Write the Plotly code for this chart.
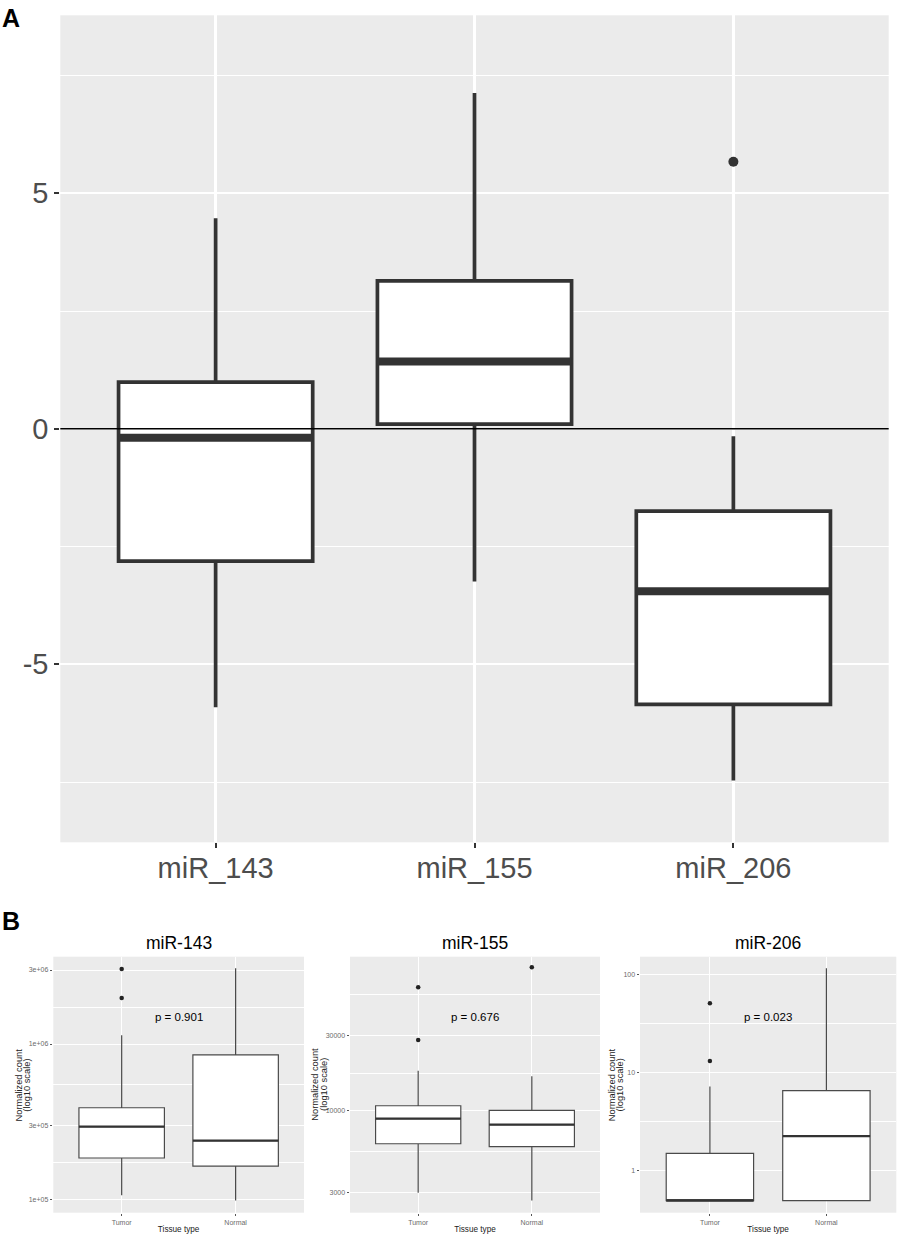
import numpy as np
import plotly.graph_objects as go

# ---- panel A: fold change per miRNA (box stats) ----
a_mirs = ["miR_143", "miR_155", "miR_206"]
a_lower = [-5.91, -3.24, -7.47]
a_q1 = [-2.81, 0.10, -5.85]
a_median = [-0.19, 1.43, -3.45]
a_q3 = [0.99, 3.14, -1.75]
a_upper = [4.47, 7.13, -0.16]
a_out_idx = [2]
a_out_val = [5.67]
a_yticks = [-5, 0, 5]

# ---- panel B: normalized counts, tumor vs normal ----
b_titles = ["miR-143", "miR-155", "miR-206"]
b_pvalues = ["p = 0.901", "p = 0.676", "p = 0.023"]
tissues = ["Tumor", "Normal"]
b_lower = [[1.06e5, 9.8e4], [2970, 2650], [0.5, 0.5]]
b_q1 = [[1.84e5, 1.63e5], [6120, 5860], [0.5, 0.5]]
b_median = [[2.93e5, 2.38e5], [8850, 8110], [0.5, 2.27]]
b_q3 = [[3.88e5, 8.5e5], [10700, 10000], [1.51, 6.6]]
b_upper = [[1.14e6, 3.08e6], [17900, 16500], [7.26, 116]]
b_outliers = [
    [[1.98e6, 3.05e6], []],
    [[28200, 61100], [82000]],
    [[13.2, 51.2], []],
]
b_ticks = [[1e5, 3e5, 1e6, 3e6], [3000, 10000, 30000], [1, 10, 100]]
b_ticktext = [["1e+05", "3e+05", "1e+06", "3e+06"], ["3000", "10000", "30000"], ["1", "10", "100"]]
b_ylab = ["Normalized count", "(log10 scale)"]

FONT = "Liberation Sans, Arial, sans-serif"
PANEL = "#EBEBEB"
DARK = "#333333"
BOXW = 0.75

W, H = 898, 1238


def px_x(a, b):
    return [a / W, b / W]


def px_y(top, bottom):
    return [1 - bottom / H, 1 - top / H]


def median_segments(xs, meds):
    mx, my = [], []
    for x, m in zip(xs, meds):
        mx += [x - BOXW / 2, x + BOXW / 2, None]
        my += [m, m, None]
    return mx, my


fig = go.Figure()

# panel A
xa = list(range(len(a_mirs)))
fig.add_trace(go.Box(
    x=xa, q1=a_q1, median=a_median, q3=a_q3,
    lowerfence=a_lower, upperfence=a_upper,
    width=BOXW, whiskerwidth=0, fillcolor="white",
    line=dict(color=DARK, width=3.7), boxpoints=False,
    showlegend=False, xaxis="x", yaxis="y",
))
mx, my = median_segments(xa, a_median)
fig.add_trace(go.Scatter(x=mx, y=my, mode="lines", line=dict(color=DARK, width=8),
                         showlegend=False, hoverinfo="skip", xaxis="x", yaxis="y"))
fig.add_trace(go.Scatter(x=a_out_idx, y=a_out_val, mode="markers",
                         marker=dict(size=10, color=DARK), showlegend=False,
                         xaxis="x", yaxis="y"))

# panel B
b_xdom = [px_x(53.3, 304), px_x(350, 600), px_x(640, 896.3)]
b_ydom = px_y(956.7, 1212.7)
b_range = [[4.912, 6.563], [3.346, 4.982], [-0.425, 2.183]]
b_ylab_shift = [34.5, 35, 28.5]   # px left of each panel for the first title line
xb = list(range(len(tissues)))

annotations = [
    dict(text="<b>A</b>", x=0, y=1 - 2 / H, xref="paper", yref="paper",
         xanchor="left", yanchor="top", showarrow=False,
         font=dict(size=25, color="black", family=FONT)),
    dict(text="<b>B</b>", x=0, y=1 - 905 / H, xref="paper", yref="paper",
         xanchor="left", yanchor="top", showarrow=False,
         font=dict(size=25, color="black", family=FONT)),
]

axes = {}
for k in range(3):
    n = k + 2
    xr, yr = f"x{n}", f"y{n}"
    fig.add_trace(go.Box(
        x=xb, q1=b_q1[k], median=b_median[k], q3=b_q3[k],
        lowerfence=b_lower[k], upperfence=b_upper[k],
        width=BOXW, whiskerwidth=0, fillcolor="white",
        line=dict(color="#4a4a4a", width=1.2), boxpoints=False,
        showlegend=False, xaxis=xr, yaxis=yr,
    ))
    mx, my = median_segments(xb, b_median[k])
    fig.add_trace(go.Scatter(x=mx, y=my, mode="lines", line=dict(color=DARK, width=2.2),
                             showlegend=False, hoverinfo="skip", xaxis=xr, yaxis=yr))
    ox, oy = [], []
    for i, vals in enumerate(b_outliers[k]):
        ox += [i] * len(vals)
        oy += vals
    fig.add_trace(go.Scatter(x=ox, y=oy, mode="markers", marker=dict(size=4.5, color="#222222"),
                             showlegend=False, xaxis=xr, yaxis=yr))

    # minor grid halfway (in log space) between breaks, as ggplot does
    t = b_ticks[k]
    ext = [t[0] / (t[2] / t[1])] + t + [t[-1] * (t[-2] / t[-3])]
    minor_vals = [float(np.sqrt(ext[i] * ext[i + 1])) for i in range(len(ext) - 1)]

    axes[f"xaxis{n}"] = dict(
        domain=b_xdom[k], anchor=yr, range=[-0.6, 1.6],
        tickvals=xb, ticktext=tissues, showgrid=True, gridcolor="white", gridwidth=1,
        zeroline=False, ticks="outside", ticklen=2.5, tickcolor="#555", tickwidth=0.8,
        tickfont=dict(size=7, color="#6b6b6b", family=FONT),
        title=dict(text="Tissue type", standoff=1, font=dict(size=8.2, color="#222", family=FONT)),
    )
    axes[f"yaxis{n}"] = dict(
        domain=b_ydom, anchor=xr, type="log", range=b_range[k],
        tickvals=t, ticktext=b_ticktext[k],
        showgrid=True, gridcolor="white", gridwidth=1, zeroline=False,
        ticks="outside", ticklen=2.5, tickcolor="#555", tickwidth=0.8,
        tickfont=dict(size=7, color="#6b6b6b", family=FONT),
        minor=dict(tickmode="array", tickvals=minor_vals, showgrid=True,
                   gridcolor="white", gridwidth=0.5, ticks=""),
    )
    # two-line y title, set as rotated text so the tight ggplot line spacing is kept
    for j, line in enumerate(b_ylab):
        annotations.append(dict(text=line, x=0, y=0.5, xref=f"{xr} domain", yref=f"{yr} domain",
                                xshift=-b_ylab_shift[k] + 8.2 * j, textangle=-90,
                                xanchor="center", yanchor="middle", showarrow=False,
                                font=dict(size=9.3, color="#222", family=FONT)))
    annotations.append(dict(text=b_titles[k], x=0.5, y=1, xref=f"{xr} domain", yref=f"{yr} domain",
                            xanchor="center", yanchor="bottom", yshift=2, showarrow=False,
                            font=dict(size=17.5, color="black", family=FONT)))
    annotations.append(dict(text=b_pvalues[k], x=0.5, y=0.763, xref=f"{xr} domain", yref=f"{yr} domain",
                            xanchor="center", yanchor="middle", showarrow=False,
                            font=dict(size=11.5, color="black", family=FONT)))

fig.update_layout(
    width=W, height=H,
    template="none",
    margin=dict(l=0, r=0, t=0, b=0, pad=0),
    paper_bgcolor="white",
    plot_bgcolor=PANEL,
    font=dict(family=FONT),
    showlegend=False,
    xaxis=dict(
        domain=px_x(60.3, 888.7), anchor="y", range=[-0.6, 2.6],
        tickvals=xa, ticktext=a_mirs, showgrid=True, gridcolor="white", gridwidth=2.5,
        zeroline=False, ticks="outside", ticklen=5, tickcolor=DARK, tickwidth=1.5,
        ticklabelstandoff=-5,
        tickfont=dict(size=29, color="#4d4d4d", family=FONT),
    ),
    yaxis=dict(
        domain=px_y(15.3, 842.3), anchor="x", range=[-8.78, 8.78],
        tickvals=a_yticks, ticktext=[str(v) for v in a_yticks],
        showgrid=True, gridcolor="white", gridwidth=2.2, zeroline=False,
        ticks="outside", ticklen=5, tickcolor=DARK, tickwidth=1.5,
        tickfont=dict(size=29, color="#4d4d4d", family=FONT),
        minor=dict(tick0=2.5, dtick=5, showgrid=True, gridcolor="white", gridwidth=1.1, ticks=""),
    ),
    shapes=[dict(type="line", xref="x domain", yref="y", x0=0, x1=1, y0=0, y1=0,
                 line=dict(color="black", width=1.5), layer="above")],
    annotations=annotations,
    **axes,
)

# drop the browser's default 8px body margin so the figure fills the window exactly
fig.write_html("out.html", config={"displayModeBar": False},
               post_script="document.body.style.margin='0';")
